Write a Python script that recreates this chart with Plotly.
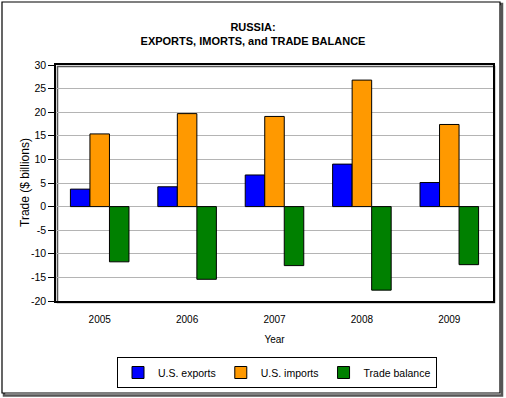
import plotly.graph_objects as go

years = ["2005", "2006", "2007", "2008", "2009"]
exports = [3.7, 4.2, 6.7, 9.0, 5.1]
imports = [15.4, 19.7, 19.1, 26.8, 17.4]
balance = [-11.7, -15.4, -12.5, -17.7, -12.3]
y_ticks = [30, 25, 20, 15, 10, 5, 0, -5, -10, -15, -20]

FONT = "Liberation Sans, Arial, sans-serif"

fig = go.Figure()
for name, vals, col in [("U.S. exports", exports, "#0000ff"),
                        ("U.S. imports", imports, "#ff9900"),
                        ("Trade balance", balance, "#008000")]:
    fig.add_trace(go.Bar(x=years, y=vals, name=name,
                         marker=dict(color=col, line=dict(color="black", width=1))))

L, R, T, B = 56, 13, 65, 97
W, H = 506, 398
pw, ph = W - L - R, H - T - B

def px(x):
    return (x - L) / pw

def py(y):
    return (H - B - y) / ph

shapes = [
    dict(type="rect", xref="paper", yref="paper", x0=px(4), x1=px(502), y0=py(4), y1=py(395.5),
         line=dict(color="#555555", width=2.5), fillcolor="rgba(0,0,0,0)", layer="below"),
    dict(type="rect", xref="paper", yref="paper", x0=px(2), x1=px(500), y0=py(2), y1=py(393),
         line=dict(color="black", width=1.2), fillcolor="white", layer="below"),
    dict(type="rect", xref="paper", yref="paper", x0=px(57.5), x1=px(494.5), y0=py(66.5), y1=py(302.5),
         line=dict(color="#555555", width=1.5), layer="below"),
]

annotations = [
    dict(text="Trade ($ billions)", xref="paper", yref="paper", x=px(25), y=0.5,
         xanchor="center", yanchor="middle", textangle=-90, showarrow=False,
         font=dict(family=FONT, size=12, color="black")),
]

fig.update_layout(
    width=W, height=H,
    margin=dict(l=L, r=R, t=T, b=B),
    paper_bgcolor="white", plot_bgcolor="white",
    font=dict(family=FONT, size=10, color="black"),
    title=dict(text="<b>RUSSIA:<br>EXPORTS, IMORTS, and TRADE BALANCE</b>",
               x=0.5, xref="container", xanchor="center", y=1 - 31 / H, yanchor="top",
               font=dict(family=FONT, size=11, color="black")),
    barmode="group", bargap=0.33, bargroupgap=0,
    showlegend=True,
    legend=dict(orientation="h", x=px(277), xanchor="center",
                yref="container", y=1 - 357 / H, yanchor="top",
                bordercolor="black", borderwidth=1, bgcolor="white",
                font=dict(family=FONT, size=10.5), itemwidth=30, tracegroupgap=0),
    shapes=shapes,
    annotations=annotations,
)
fig.update_xaxes(title=dict(text="Year", font=dict(size=10), standoff=12),
                 automargin=False,
                 showline=True, linecolor="black", linewidth=1.5, mirror=True,
                 showgrid=False, ticks="outside", ticklen=8, tickcolor="rgba(0,0,0,0)",
                 tickfont=dict(size=10))
fig.update_yaxes(range=[-20, 30], tickvals=y_ticks, ticktext=[str(v) for v in y_ticks],
                 automargin=False,
                 showline=True, linecolor="black", linewidth=1.5, mirror=True,
                 showgrid=True, gridcolor="#b4b4b4", gridwidth=1, zeroline=False,
                 ticks="outside", ticklen=6, tickcolor="black", tickfont=dict(size=10.5))

fig.write_html("out.html", config={"displayModeBar": False},
               post_script="document.body.style.margin='0';")
